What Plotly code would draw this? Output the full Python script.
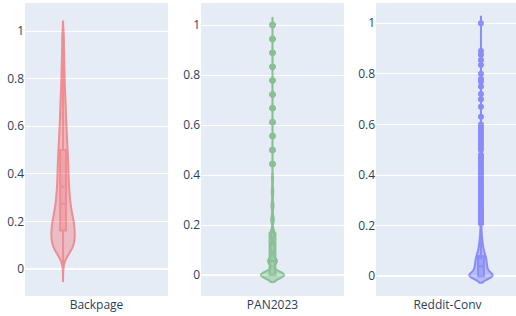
import numpy as np
import plotly.graph_objects as go

names = ["Backpage", "PAN2023", "Reddit-Conv"]
colors = ["red", "green", "blue"]

backpage_values = [0.000, 0.025, 0.050, 0.075, 0.100, 0.125, 0.150, 0.175, 0.200, 0.225,
                   0.250, 0.275, 0.300, 0.325, 0.350, 0.375, 0.400, 0.425, 0.450, 0.475,
                   0.500, 0.525, 0.550, 0.575, 0.600, 0.625, 0.650, 0.675, 0.700, 0.725,
                   0.750, 0.775, 0.800, 0.825, 0.850, 0.875, 0.900, 0.925, 0.950, 0.975, 0.990]
backpage_counts = [1, 1, 10, 30, 39, 41, 42, 40, 38, 33,
                   29, 26, 24, 22, 21, 20, 19, 19, 18, 17,
                   16, 15, 14, 13, 12, 11, 10, 10, 9, 8,
                   7, 6, 6, 5, 5, 4, 4, 3, 3, 2, 3]

pan_values = [0.0, 0.0556, 0.1111, 0.1667, 0.2222, 0.2778, 0.3333, 0.3889, 0.4444, 0.5,
              0.5556, 0.6111, 0.6667, 0.7222, 0.7778, 0.8333, 0.8889, 0.9444, 1.0]
pan_counts = [450, 170, 90, 80, 50, 40, 30, 20, 6, 6,
              6, 6, 6, 6, 6, 6, 6, 6, 6]

reddit_values = [0.00, 0.01, 0.02, 0.03, 0.04, 0.05, 0.06, 0.07, 0.08, 0.09,
                 0.10, 0.11, 0.12, 0.13, 0.14, 0.15, 0.16, 0.17, 0.18, 0.19, 0.20,
                 0.21, 0.22, 0.23, 0.24, 0.25, 0.26, 0.27, 0.28, 0.29, 0.30,
                 0.31, 0.32, 0.33, 0.34, 0.35, 0.36, 0.37, 0.38, 0.39, 0.40,
                 0.41, 0.42, 0.43, 0.44, 0.45, 0.46, 0.47, 0.48, 0.50, 0.51,
                 0.52, 0.53, 0.54, 0.55, 0.56, 0.57, 0.58, 0.59, 0.60, 0.63,
                 0.67, 0.70, 0.72, 0.75, 0.77, 0.78, 0.80, 0.835, 0.855, 0.875, 0.89, 1.00]
reddit_counts = [270, 62, 61, 59, 57, 55, 52, 49, 45, 33,
                 27, 22, 19, 16, 13, 11, 9, 7, 6, 5, 4,
                 2, 2, 2, 2, 2, 2, 2, 2, 1, 1,
                 1, 1, 1, 1, 1, 1, 1, 1, 1, 1,
                 1, 1, 1, 1, 1, 1, 1, 1, 1, 1,
                 1, 1, 1, 1, 1, 1, 1, 1, 1, 1,
                 1, 1, 1, 1, 1, 1, 1, 1, 1, 1, 1, 1]

datasets = [
    np.repeat(backpage_values, backpage_counts),
    np.repeat(pan_values, pan_counts),
    np.repeat(reddit_values, reddit_counts),
]
bandwidths = [0.025, 0.014, 0.013]
positions = [-0.234, 0.0, 0.234]

fig = go.Figure()
for i, (name, col, data, bw, pos) in enumerate(zip(names, colors, datasets, bandwidths, positions)):
    sfx = "" if i == 0 else str(i + 1)
    fig.add_trace(go.Violin(
        y=data, x0=pos, name=name, width=0.163,
        line=dict(color=col, width=2), opacity=0.4,
        box=dict(visible=True), meanline=dict(visible=True),
        points="outliers", pointpos=0, jitter=0,
        marker=dict(size=6),
        bandwidth=bw, showlegend=False,
        xaxis="x" + sfx, yaxis="y" + sfx,
    ))

domains = [[0, 143 / 491], [176 / 491, 319 / 491], [351 / 491, 1]]
xranges = [[-0.5, 0.5], [-0.5, 0.5], [-0.5, 0.479]]
yranges = [[-0.113, 1.118], [-0.084, 1.088], [-0.078, 1.080]]

layout = dict(
    width=516, height=316,
    margin=dict(l=25, r=0, t=3, b=20),
    template="plotly",
    showlegend=False,
)
for i in range(3):
    sfx = "" if i == 0 else str(i + 1)
    layout["xaxis" + sfx] = dict(
        domain=domains[i], range=xranges[i], type="linear",
        tickvals=[0], ticktext=[names[i]], showgrid=False, zeroline=False,
        anchor="y" + sfx, automargin=False,
    )
    layout["yaxis" + sfx] = dict(
        range=yranges[i], anchor="x" + sfx, automargin=False,
        tickvals=[0, 0.2, 0.4, 0.6, 0.8, 1], ticktext=["0", "0.2", "0.4", "0.6", "0.8", "1"],
    )
fig.update_layout(**layout)
fig.write_html("out.html", config={"displayModeBar": False},
               post_script="document.body.style.margin='0';")
